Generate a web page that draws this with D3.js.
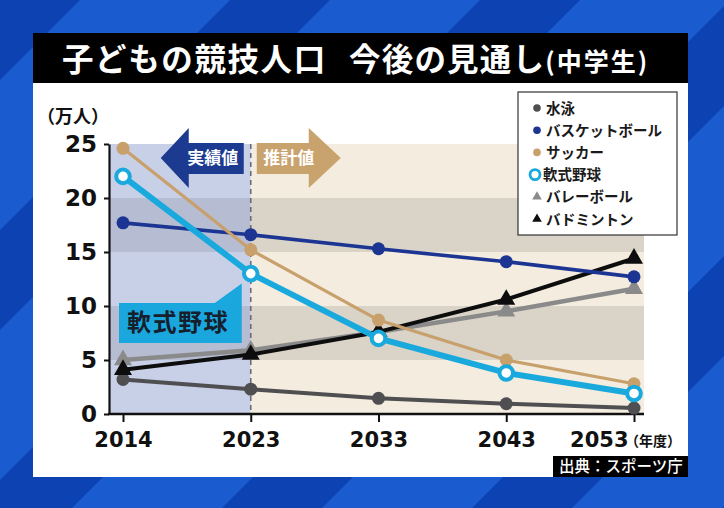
<!DOCTYPE html>
<html><head><meta charset="utf-8">
<script src="https://cdn.jsdelivr.net/npm/d3@7"></script>
<style>body{margin:0;background:#1656c8;} svg{display:block;}</style>
</head><body><svg id="c" width="724" height="508"></svg>
<script>
// ---- data ----
const years = ["2014", "2023", "2033", "2043", "2053"];
const swim       = [3.2, 2.3, 1.45, 0.95, 0.55];
const basketball = [17.7, 16.6, 15.3, 14.1, 12.7];
const soccer     = [24.6, 15.2, 8.7, 5.0, 2.8];
const softball   = [22.0, 13.0, 7.0, 3.8, 1.9];
const volleyball = [5.0, 5.9, 7.6, 9.5, 11.6];
const badminton  = [4.1, 5.5, 7.6, 10.6, 14.4];
const yTicks = [0, 5, 10, 15, 20, 25];
const seriesNames = ["水泳", "バスケットボール", "サッカー", "軟式野球", "バレーボール", "バドミントン"];
const titleMain = "子どもの競技人口";
const titleSub = "今後の見通し";
const titleParen = "(中学生)";

const JP = "'Noto Sans CJK JP','Noto Sans',sans-serif";
const NUM = "'DejaVu Sans',sans-serif";

const svg = d3.select("#c");

// ---- background stripes ----
const bg = svg.append("g");
bg.append("rect").attr("width", 724).attr("height", 508).attr("fill", "#1a5cd0");
const stripeStarts = d3.range(-520, 1300, 250);
bg.selectAll("polygon").data(stripeStarts).join("polygon")
  .attr("points", c => `${c},0 ${c + 100},0 ${c + 100 - 508},508 ${c - 508},508`)
  .attr("fill", "#0c42b2");

// ---- panel ----
svg.append("rect").attr("x", 33).attr("y", 33).attr("width", 655).attr("height", 444).attr("fill", "#ffffff");
svg.append("rect").attr("x", 33).attr("y", 33).attr("width", 655).attr("height", 50).attr("fill", "#000000");
const tt = svg.append("text").attr("y", 71).attr("fill", "#fff").attr("font-family", JP).attr("font-weight", 700);
tt.append("tspan").attr("x", 62).attr("font-size", 31.5).attr("letter-spacing", 1.6).text(titleMain);
tt.append("tspan").attr("x", 349).attr("font-size", 31.5).attr("letter-spacing", 1.2).text(titleSub);
tt.append("tspan").attr("font-size", 25).attr("dx", 0).attr("letter-spacing", 2).text(titleParen);

// ---- scales ----
const plotL = 109, plotR = 644;
const x = d3.scalePoint().domain(years).range([123, 634]);
const y = d3.scaleLinear().domain([0, 25]).range([414, 144]);
const split = x("2023");

// ---- bands ----
const bands = d3.range(0, 5).map(i => ({lo: yTicks[i], hi: yTicks[i + 1], dark: i % 2 === 1}));
const bandG = svg.append("g");
bandG.selectAll(".bl").data(bands).join("rect")
  .attr("x", plotL).attr("width", split - plotL)
  .attr("y", d => y(d.hi)).attr("height", d => y(d.lo) - y(d.hi))
  .attr("fill", d => d.dark ? "#b6bdd3" : "#c8d0e8");
bandG.selectAll(".br").data(bands).join("rect")
  .attr("x", split).attr("width", plotR - split)
  .attr("y", d => y(d.hi)).attr("height", d => y(d.lo) - y(d.hi))
  .attr("fill", d => d.dark ? "#d9d3c8" : "#f3ecdf");

// dashed divider
svg.append("line").attr("x1", split).attr("x2", split).attr("y1", y(25)).attr("y2", y(0))
  .attr("stroke", "#6b6b78").attr("stroke-width", 1.6).attr("stroke-dasharray", "5,4");

// ---- arrows ----
const ay = 158;
svg.append("path")
  .attr("d", `M${split - 90},${ay} L${split - 62},${ay - 30} L${split - 62},${ay - 15} L${split - 7},${ay - 15} L${split - 7},${ay + 16} L${split - 62},${ay + 16} L${split - 62},${ay + 30} Z`)
  .attr("fill", "#1c3a8f");
svg.append("text").attr("x", split - 38).attr("y", ay + 6).attr("text-anchor", "middle")
  .attr("font-family", JP).attr("font-weight", 700).attr("font-size", 17).attr("fill", "#fff").text("実績値");
svg.append("path")
  .attr("d", `M${split + 6},${ay - 15} L${split + 58},${ay - 15} L${split + 58},${ay - 30} L${split + 90},${ay} L${split + 58},${ay + 30} L${split + 58},${ay + 16} L${split + 6},${ay + 16} Z`)
  .attr("fill", "#c9a36d");
svg.append("text").attr("x", split + 38).attr("y", ay + 6).attr("text-anchor", "middle")
  .attr("font-family", JP).attr("font-weight", 700).attr("font-size", 17).attr("fill", "#fff").text("推計値");

// ---- axes ----
const yAxis = svg.append("g").attr("transform", `translate(${plotL},0)`)
  .call(d3.axisLeft(y).tickValues(yTicks).tickSize(5).tickSizeOuter(0).tickPadding(7).tickFormat(d3.format("d")));
yAxis.select(".domain").attr("stroke", "#111").attr("stroke-width", 2.2);
yAxis.selectAll(".tick line").attr("stroke", "#111").attr("stroke-width", 2);
yAxis.selectAll("text").attr("font-family", NUM).attr("font-weight", 700).attr("font-size", 23).attr("fill", "#111");

const xAxis = svg.append("g").attr("transform", `translate(0,${y(0)})`)
  .call(d3.axisBottom(x).tickSize(8).tickSizeOuter(0).tickPadding(10));
xAxis.select(".domain").remove();
xAxis.selectAll(".tick line").attr("stroke", "#111").attr("stroke-width", 2);
xAxis.selectAll("text").attr("font-family", NUM).attr("font-weight", 700).attr("font-size", 21).attr("fill", "#111");
xAxis.selectAll(".tick").filter(d => d === years[years.length - 1]).select("text")
  .attr("text-anchor", "end").attr("x", -6);
svg.append("line").attr("x1", plotL - 1).attr("x2", plotR).attr("y1", y(0)).attr("y2", y(0))
  .attr("stroke", "#111").attr("stroke-width", 2.4);

svg.append("text").attr("x", 37).attr("y", 123).attr("font-family", JP).attr("font-weight", 700)
  .attr("font-size", 18).attr("fill", "#111").text("（万人）");
svg.append("text").attr("x", 625).attr("y", 446).attr("font-family", JP).attr("font-weight", 700)
  .attr("font-size", 14).attr("fill", "#111").text("（年度）");

// ---- series ----
const series = [
  {name: seriesNames[0], values: swim, color: "#4f4f52", width: 4, mark: "dot"},
  {name: seriesNames[4], values: volleyball, color: "#8a8a8a", width: 4.5, mark: "tri"},
  {name: seriesNames[5], values: badminton, color: "#0d0d0d", width: 4, mark: "tri"},
  {name: seriesNames[1], values: basketball, color: "#1c3593", width: 3.6, mark: "dot"},
  {name: seriesNames[2], values: soccer, color: "#c8a06c", width: 3.2, mark: "dot"},
  {name: seriesNames[3], values: softball, color: "#19a9dd", width: 6, mark: "ring"}
];
const line = d3.line().x((d, i) => x(years[i])).y(d => y(d));
const triSym = d3.symbol(d3.symbolTriangle, 140);
series.forEach(s => {
  const g = svg.append("g");
  g.append("path").attr("d", line(s.values)).attr("fill", "none").attr("stroke", s.color)
    .attr("stroke-width", s.width).attr("stroke-linejoin", "round");
  const pts = s.values.map((v, i) => ({x: x(years[i]), y: y(v)}));
  if (s.mark === "dot") {
    g.selectAll("circle").data(pts).join("circle").attr("cx", d => d.x).attr("cy", d => d.y).attr("r", 6.5).attr("fill", s.color);
  } else if (s.mark === "tri") {
    g.selectAll("path.m").data(pts).join("path").attr("class", "m").attr("d", triSym)
      .attr("transform", d => `translate(${d.x},${d.y})`).attr("fill", s.color);
  } else {
    g.selectAll("circle").data(pts).join("circle").attr("cx", d => d.x).attr("cy", d => d.y).attr("r", 6.8)
      .attr("fill", "#fff").attr("stroke", s.color).attr("stroke-width", 4);
  }
});

// ---- callout ----
const cx = x("2023"), cy = y(softball[1]);
svg.append("path")
  .attr("d", `M119,303 L${cx - 36},303 L${cx - 9},${cy + 10} L${cx - 9},343 L119,343 Z`)
  .attr("fill", "#1aa7dd");
svg.append("text").attr("x", 127).attr("y", 331).attr("font-family", JP).attr("font-weight", 700)
  .attr("font-size", 24).attr("letter-spacing", 1.5).attr("fill", "#16202c").text(seriesNames[3]);

// ---- legend ----
const leg = svg.append("g");
leg.append("rect").attr("x", 518).attr("y", 92).attr("width", 159).attr("height", 143)
  .attr("fill", "#fff").attr("stroke", "#333").attr("stroke-width", 1.2);
const legendItems = seriesNames.map(n => series.find(s => s.name === n));
legendItems.forEach((s, i) => {
  const ly = 108 + i * 22.2;
  if (s.mark === "dot") {
    leg.append("circle").attr("cx", 537).attr("cy", ly).attr("r", 3.8).attr("fill", s.color);
  } else if (s.mark === "tri") {
    leg.append("path").attr("d", d3.symbol(d3.symbolTriangle, 40)).attr("transform", `translate(537,${ly})`).attr("fill", s.color);
  } else {
    leg.append("circle").attr("cx", 535).attr("cy", ly).attr("r", 5).attr("fill", "#fff").attr("stroke", s.color).attr("stroke-width", 2.8);
  }
  leg.append("text").attr("x", s.mark === "ring" ? 543 : 546).attr("y", ly + 5.5)
    .attr("font-family", JP).attr("font-weight", 700).attr("font-size", 14.5).attr("fill", "#1a1a1a").text(s.name);
});

// ---- source ----
svg.append("rect").attr("x", 553).attr("y", 456).attr("width", 135).attr("height", 21).attr("fill", "#000");
svg.append("text").attr("x", 559).attr("y", 472).attr("font-family", JP).attr("font-weight", 500)
  .attr("font-size", 15.5).attr("fill", "#fff").text("出典：スポーツ庁");
</script></body></html>
